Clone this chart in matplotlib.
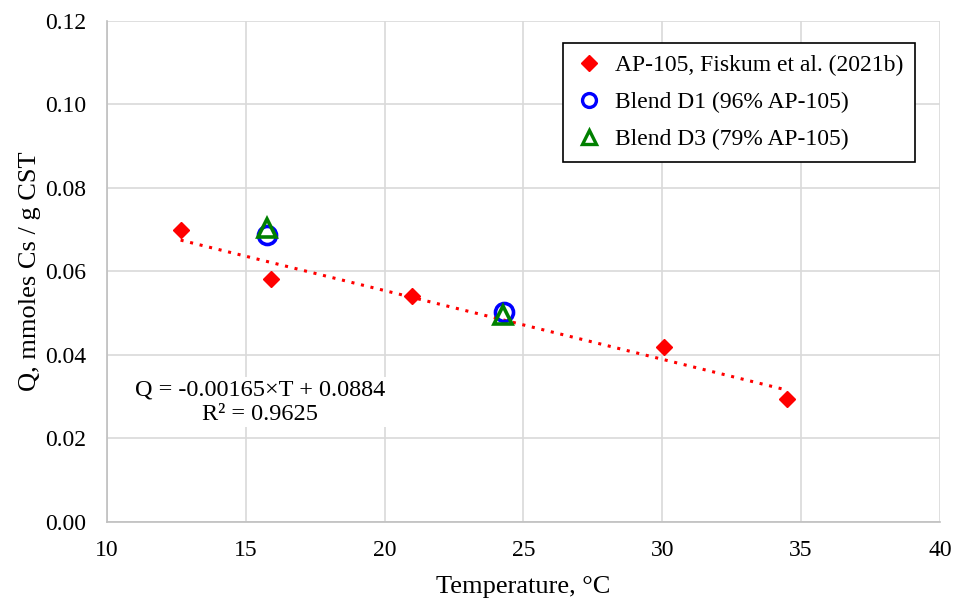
import numpy as np
import matplotlib
matplotlib.use("Agg")
import matplotlib.pyplot as plt

plt.rcParams['font.family'] = ['Liberation Serif', 'DejaVu Serif']

# Data
ap105_T = [12.65, 15.9, 21.0, 30.05, 34.5]
ap105_Q = [0.0700, 0.0581, 0.0542, 0.0420, 0.0295]
d1_T = [15.75, 24.3]
d1_Q = [0.0688, 0.0503]
d3_T = [15.75, 24.25]
d3_Q = [0.0703, 0.0495]
xticks = [10, 15, 20, 25, 30, 35, 40]
yticks = [0.00, 0.02, 0.04, 0.06, 0.08, 0.10, 0.12]

fig = plt.figure(figsize=(9.6, 6.05), dpi=100)
ax = fig.add_axes([0.1115, 0.1372, 0.8675, 0.8286])

# Trendline
coef = np.polyfit(ap105_T, ap105_Q, 1)
tx = np.array([min(ap105_T), max(ap105_T)])
ax.plot(tx, np.polyval(coef, tx), color='red', linestyle=(0, (1, 2.2)), linewidth=2.2, zorder=2)

ax.plot(ap105_T, ap105_Q, linestyle='none', marker='D', markersize=8.5, color='red',
        label='AP-105, Fiskum et al. (2021b)', zorder=3)
ax.plot(d1_T, d1_Q, linestyle='none', marker='o', markersize=13, markerfacecolor='none',
        markeredgecolor='blue', markeredgewidth=2.6, label='Blend D1 (96% AP-105)', zorder=4)
ax.plot(d3_T, d3_Q, linestyle='none', marker='^', markersize=13, markerfacecolor='none',
        markeredgecolor='green', markeredgewidth=2.6, label='Blend D3 (79% AP-105)', zorder=5)

ax.set_xlim(10, 40)
ax.set_ylim(0, 0.12)
ax.set_xticks(xticks)
ax.set_yticks(yticks)
ax.set_yticklabels([f"{v:.2f}" for v in yticks])
ax.grid(True, color='#d9d9d9', linewidth=1.2)
ax.set_axisbelow(True)
for s in ['top', 'right']:
    ax.spines[s].set_visible(False)
for s in ['left', 'bottom']:
    ax.spines[s].set_color('#bfbfbf')
    ax.spines[s].set_linewidth(1.2)
ax.tick_params(axis='both', length=0, labelsize=17)
ax.tick_params(axis='y', pad=15)
ax.tick_params(axis='x', pad=13)
ax.set_xlabel('Temperature, °C', fontsize=19, labelpad=11)
ax.set_ylabel('Q, mmoles Cs / g CST', fontsize=19, labelpad=3)

ax.text(15.5, 0.0287, 'Q = -0.00165×T + 0.0884\nR² = 0.9625', fontsize=17.5,
        ha='center', va='center', linespacing=1.2,
        bbox=dict(facecolor='white', edgecolor='none', pad=2), zorder=6)

leg = ax.legend(loc='upper right', bbox_to_anchor=(0.970, 0.9555), fontsize=17,
                frameon=True, fancybox=False, edgecolor='black', framealpha=1,
                handletextpad=0.5, borderpad=0.5, labelspacing=0.65, handlelength=1.2,
                borderaxespad=0)
leg.get_frame().set_linewidth(1.2)
hs = leg.legend_handles
hs[0].set_markersize(8)
hs[1].set_markersize(10)
hs[1].set_markeredgewidth(2.4)
hs[2].set_markersize(10)
hs[2].set_markeredgewidth(2.4)

fig.savefig('out.png', dpi=100)
